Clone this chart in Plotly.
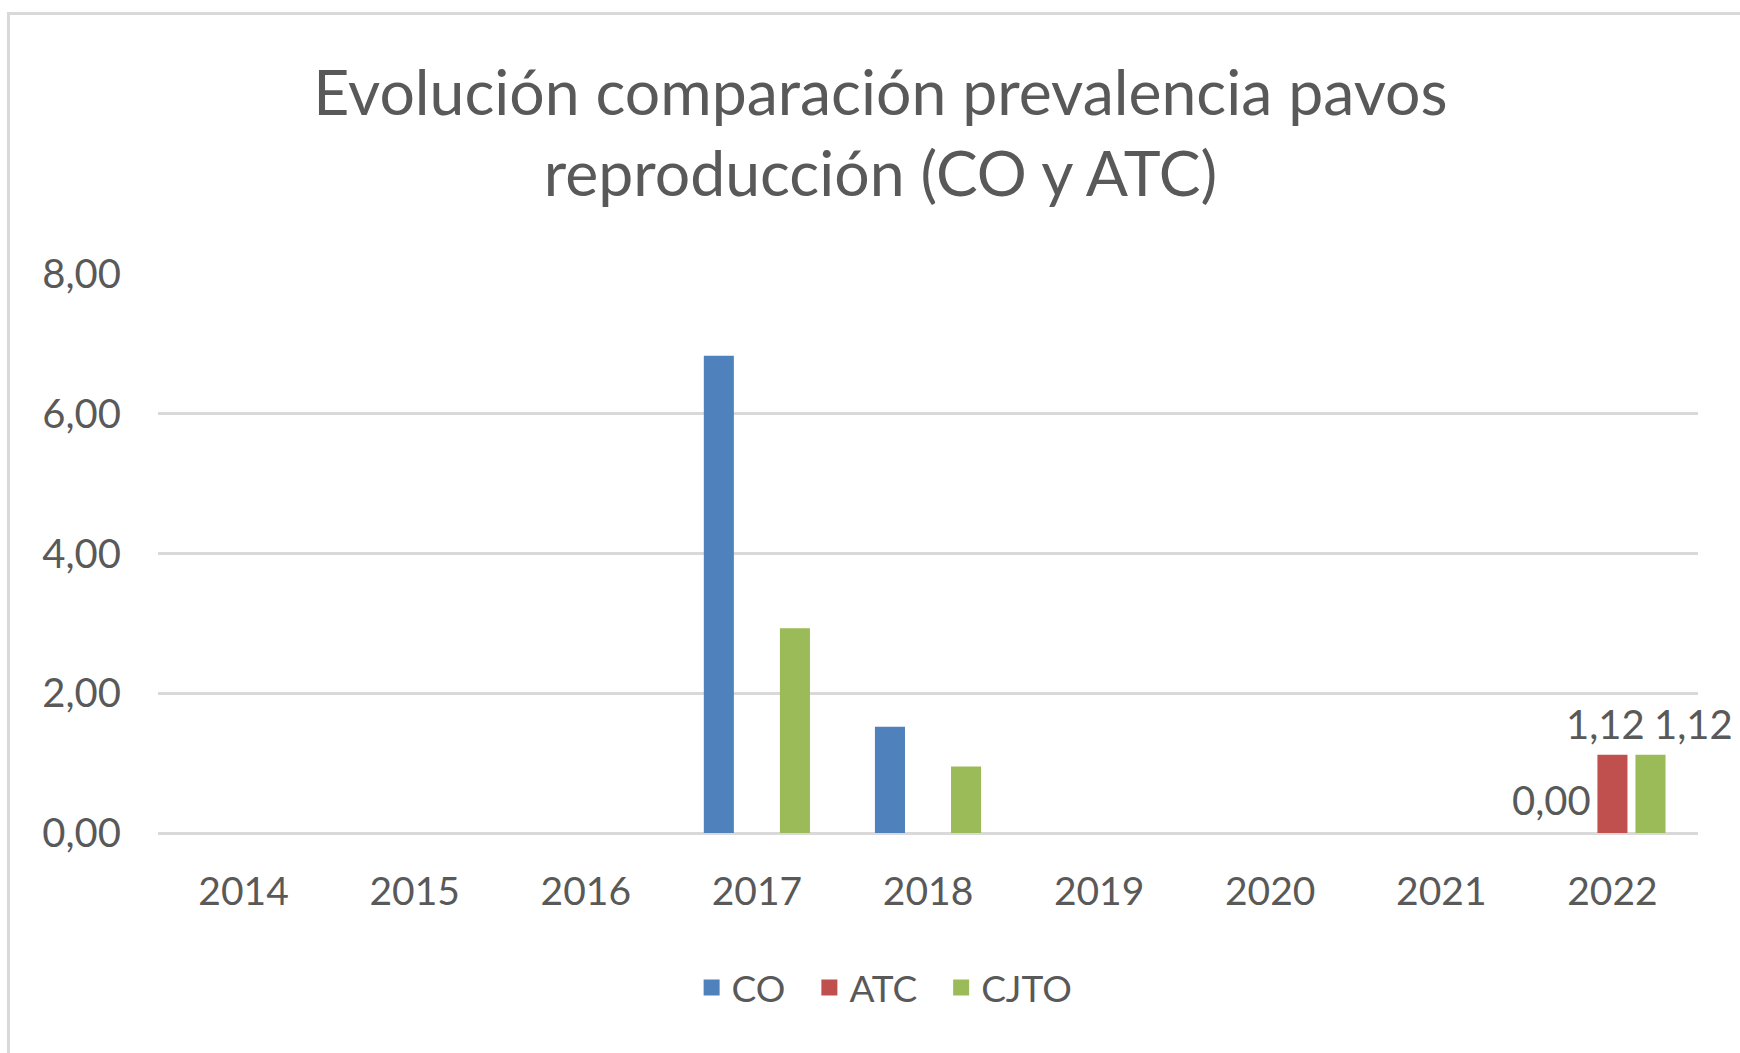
import plotly.graph_objects as go

years = ["2014", "2015", "2016", "2017", "2018", "2019", "2020", "2021", "2022"]
co = [None, None, None, 6.83, 1.52, None, None, None, 0.00]
atc = [None, None, None, None, None, None, None, None, 1.12]
cjto = [None, None, None, 2.93, 0.95, None, None, None, 1.12]
y_ticks = [0, 2, 4, 6, 8]

TEXT = "#595959"
GRID = "#D9D9D9"
FONT = "Lato, 'Open Sans', sans-serif"

series = [
    ("CO", co, "#4F81BD"),
    ("ATC", atc, "#C0504D"),
    ("CJTO", cjto, "#9BBB59"),
]

fig = go.Figure()
for name, vals, color in series:
    fig.add_trace(go.Bar(
        x=years, y=vals, name=name, legendgroup=name, showlegend=False,
        marker=dict(color=color, line=dict(width=0)),
        hoverinfo="x+y+name",
    ))
# legend entries with larger square swatches
for name, vals, color in series:
    fig.add_trace(go.Scatter(
        x=[None], y=[None], name=name + "\u00a0\u00a0", legendgroup=name, mode="markers",
        marker=dict(symbol="square", size=24, color=color),
        showlegend=True, hoverinfo="skip",
    ))

# data labels for the last year only
last_idx = len(years) - 1
label_offsets = {"CO": (-61, 33), "ATC": (-7, 31), "CJTO": (81, 31)}
for name, vals, color in series:
    v = vals[-1]
    if v is None:
        continue
    dx, dy = label_offsets[name]
    fig.add_annotation(
        x=last_idx, y=v, xref="x", yref="y",
        text=f"{v:.2f}".replace(".", ","),
        showarrow=False, xshift=dx, yshift=dy,
        xanchor="center", yanchor="middle",
        font=dict(family=FONT, size=40, color=TEXT),
    )

# chart-area border
fig.add_shape(type="rect", xref="paper", yref="paper",
              x0=-0.0971, x1=1.04, y0=-0.42, y1=1.466,
              line=dict(color=GRID, width=3), fillcolor="rgba(0,0,0,0)",
              layer="below")

fig.update_layout(
    width=1740, height=1053,
    margin=dict(l=158, r=42, t=274, b=220, autoexpand=False),
    paper_bgcolor="white", plot_bgcolor="white",
    separators=",.",
    font=dict(family=FONT, size=40, color=TEXT),
    title=dict(
        text="Evolución comparación prevalencia pavos<br>reproducción (CO y ATC)",
        x=0.506, xanchor="center", xref="container",
        y=1 - 115 / 1053, yanchor="middle", yref="container",
        font=dict(family=FONT, size=62.5, color=TEXT),
    ),
    barmode="group", bargap=0.333, bargroupgap=0.21,
    showlegend=True,
    legend=dict(
        orientation="h", x=0.478, xanchor="center", y=-0.277, yanchor="middle",
        font=dict(family=FONT, size=37, color=TEXT),
        itemwidth=30, tracegroupgap=0, itemsizing="trace",
    ),
    xaxis=dict(
        type="category", range=[-0.5, 8.5],
        showgrid=False, showline=False, zeroline=False,
        ticks="", ticklabelstandoff=32,
        tickfont=dict(family=FONT, size=39, color=TEXT),
    ),
    yaxis=dict(
        range=[0, 8], tickvals=y_ticks, tickformat=".2f",
        showgrid=True, gridcolor=GRID, gridwidth=3,
        zeroline=True, zerolinecolor=GRID, zerolinewidth=3,
        showline=False, ticks="", ticklabelstandoff=36,
        tickfont=dict(family=FONT, size=40, color=TEXT),
    ),
)

fig.write_html("out.html", config={"displayModeBar": False},
               post_script="document.body.style.margin='0';document.body.style.overflow='hidden';")
